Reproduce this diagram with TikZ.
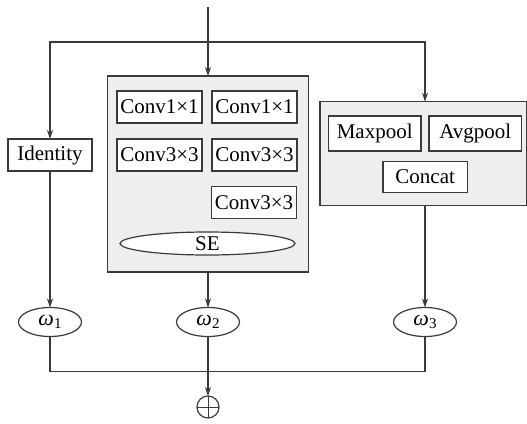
\documentclass[tikz,border=0pt]{standalone}
\usepackage{fontspec}
\setmainfont{Liberation Serif}
\newfontfamily\tms{Liberation Serif}
\usetikzlibrary{shapes.geometric,arrows.meta,calc}
\definecolor{ln}{HTML}{3A3A3A}
\definecolor{panel}{HTML}{EEEEEE}
\tikzset{
  every node/.style={inner sep=0pt,outer sep=0pt,font=\tms\fontsize{21}{24}\selectfont},
  ln/.style={draw=ln,line width=1.2pt},
  arr/.style={ln,-{Stealth[length=9pt,width=6pt]}},
  panelbox/.style={draw=ln,line width=1.4pt,fill=panel,rectangle},
  opbox/.style={draw=ln,line width=1.4pt,fill=white,rectangle,minimum width=85pt,minimum height=32pt},
  poolbox/.style={draw=ln,line width=1.4pt,fill=white,rectangle,minimum width=92.5pt,minimum height=35pt},
  weight/.style={draw=ln,line width=1.2pt,fill=white,ellipse,minimum width=63pt,minimum height=29pt},
}
\newcommand{\wt}[1]{{\fontsize{22}{24}\selectfont\textit{ω}}\raisebox{-0.35ex}{\fontsize{15}{15}\selectfont #1}}
\begin{document}
\begin{tikzpicture}[x=1pt,y=-1pt]
\useasboundingbox (0,0) rectangle (527,423);
% panels
\node[panelbox,minimum width=201pt,minimum height=196pt] (mid) at (208,174) {};
\node[panelbox,minimum width=207pt,minimum height=104pt] (right) at (423.5,153.7) {};
% middle panel content
\node[opbox] (c11a) at (159.5,107) {Conv1×1};
\node[opbox] (c11b) at (254.5,107) {Conv1×1};
\node[opbox] (c33a) at (159.5,155) {Conv3×3};
\node[opbox] (c33b) at (254.5,155) {Conv3×3};
\node[opbox] (c33c) at (254,202.5) {Conv3×3};
\node[draw=ln,line width=1.2pt,fill=white,ellipse,minimum width=175pt,minimum height=23pt] (se) at (207.5,243.5) {SE};
% right panel content
\node[poolbox] (maxp) at (374.7,133.3) {Maxpool};
\node[poolbox] (avgp) at (475.3,133.3) {Avgpool};
\node[opbox,minimum width=84.5pt,minimum height=31pt] (concat) at (425.2,177) {Concat};
% identity
\node[opbox,minimum width=84pt] (ident) at (50,155) {Identity};
% weights
\node[weight] (w1) at (50,322) {\wt{1}};
\node[weight] (w2) at (208,322) {\wt{2}};
\node[weight] (w3) at (425,322) {\wt{3}};
% sum
\node[draw=ln,line width=1.2pt,circle,minimum size=22pt] (plus) at (208,407) {};
\draw[ln,line width=1pt] (plus.north) -- (plus.south) (plus.west) -- (plus.east);
% coordinates
\coordinate (in) at (208,7);
\coordinate (split) at (208,42);
\coordinate (join) at (208,371.7);
% connectors
\draw[arr] (in) -- (mid.north);
\draw[arr] (split) -| (ident.north);
\draw[arr] (split) -| (w3 |- right.north);
\draw[arr] (ident.south) -- (w1.north);
\draw[arr] (mid.south) -- (w2.north);
\draw[arr] (w3 |- right.south) -- (w3.north);
\draw[ln] (w1.south) |- (join) -| (w3.south);
\draw[arr] (w2.south) -- (plus.north);
\end{tikzpicture}
\end{document}
